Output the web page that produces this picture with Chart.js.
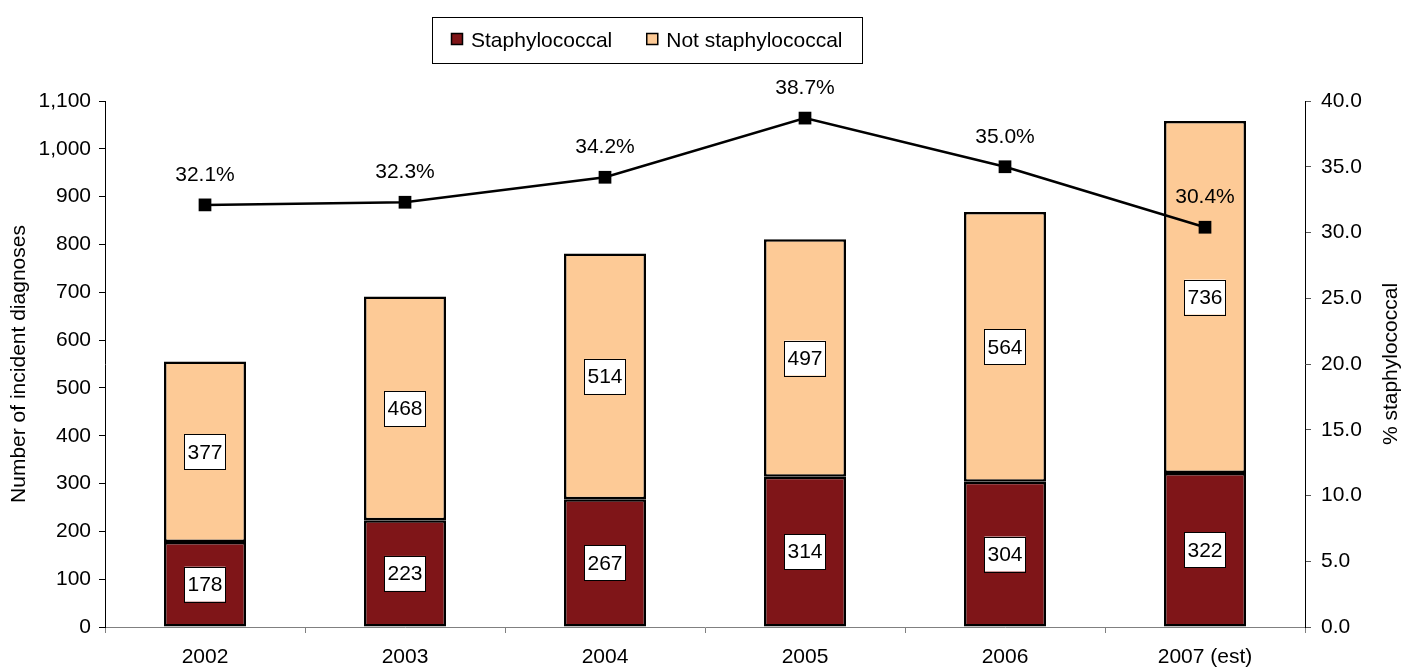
<!DOCTYPE html>
<html>
<head>
<meta charset="utf-8">
<script src="https://cdn.jsdelivr.net/npm/chart.js@4"></script>
<style>
  html, body { margin: 0; padding: 0; background: #fff; }
  #wrap { width: 1405px; height: 668px; position: relative; }
</style>
</head>
<body>
<div id="wrap"><canvas id="c" width="1405" height="668"></canvas></div>
<script>
// Incident diagnoses per year, split by staphylococcal / not staphylococcal
const years = ['2002', '2003', '2004', '2005', '2006', '2007 (est)'];
const staphylococcal = [178, 223, 267, 314, 304, 322];
const notStaphylococcal = [377, 468, 514, 497, 564, 736];
const percentStaph = [32.1, 32.3, 34.2, 38.7, 35.0, 30.4];
const countTicks = [0, 100, 200, 300, 400, 500, 600, 700, 800, 900, 1000, 1100];
const percentTicks = [0, 5, 10, 15, 20, 25, 30, 35, 40];
const rightAxisTitle = '% staphylococcal';

const FONT = '"Liberation Sans", Arial, sans-serif';
const FONT_SIZE = 21;
const STAPH_COLOR = '#7f1518';
const NOT_STAPH_COLOR = '#fdca96';

// Boxed value labels in the bar segments, and percentages above the line points
const valueLabels = {
  id: 'valueLabels',
  afterDatasetsDraw(chart) {
    const ctx = chart.ctx;
    ctx.save();
    ctx.font = FONT_SIZE + 'px ' + FONT;
    ctx.textAlign = 'center';
    ctx.textBaseline = 'middle';
    chart.data.datasets.forEach((ds, di) => {
      const meta = chart.getDatasetMeta(di);
      if (meta.hidden) return;
      meta.data.forEach((el, i) => {
        const v = ds.data[i];
        if (ds.type === 'line') {
          ctx.fillStyle = '#000';
          ctx.fillText(v.toFixed(1) + '%', el.x, el.y - 30);
        } else {
          const cy = (el.y + el.base) / 2;
          const txt = String(v);
          const w = ctx.measureText(txt).width + 6;
          const h = 35;
          ctx.fillStyle = '#fff';
          ctx.fillRect(el.x - w / 2, cy - h / 2, w, h);
          ctx.strokeStyle = '#000';
          ctx.lineWidth = 1;
          ctx.strokeRect(Math.round(el.x - w / 2) + 0.5, Math.round(cy - h / 2) + 0.5, Math.round(w), h);
          ctx.fillStyle = '#000';
          ctx.fillText(txt, el.x, cy + 1);
        }
      });
    });
    ctx.restore();
  }
};

// Framed legend above the plot, and the right axis title read bottom-to-top
const boxedLegend = {
  id: 'boxedLegend',
  afterDraw(chart) {
    const ctx = chart.ctx;
    const items = chart.data.datasets.filter(d => d.type !== 'line');
    ctx.save();
    ctx.font = FONT_SIZE + 'px ' + FONT;
    const sw = 12, gapSwatch = 8, gapItem = 34, padX = 19;
    const widths = items.map(d => sw + gapSwatch + ctx.measureText(d.label).width);
    const total = widths.reduce((a, b) => a + b, 0) + gapItem * (items.length - 1) + padX * 2;
    const cx = (chart.chartArea.left + chart.chartArea.right) / 2 - 58;
    const left = Math.round(cx - total / 2);
    const top = 17, height = 46;
    ctx.strokeStyle = '#000';
    ctx.lineWidth = 1;
    ctx.strokeRect(left + 0.5, top + 0.5, Math.round(total), height);
    let x = left + padX;
    const midY = top + height / 2;
    items.forEach((d, i) => {
      ctx.fillStyle = d.backgroundColor;
      ctx.fillRect(x, midY - 7, sw, sw);
      ctx.strokeStyle = '#000';
      ctx.lineWidth = 1.5;
      ctx.strokeRect(x + 0.5, midY - 7 + 0.5, sw - 1, sw - 1);
      ctx.fillStyle = '#000';
      ctx.textBaseline = 'middle';
      ctx.textAlign = 'left';
      ctx.fillText(d.label, x + sw + gapSwatch, midY + 1);
      x += widths[i] + gapItem;
    });

    const area = chart.chartArea;
    ctx.translate(1391, (area.top + area.bottom) / 2);
    ctx.rotate(-Math.PI / 2);
    ctx.textAlign = 'center';
    ctx.textBaseline = 'middle';
    ctx.fillStyle = '#000';
    ctx.fillText(rightAxisTitle, 0, 0);
    ctx.restore();
  }
};

const barStyle = {
  borderColor: '#000',
  borderWidth: 2.5,
  borderSkipped: false,
  categoryPercentage: 1,
  barPercentage: 0.41,
  order: 1
};

new Chart(document.getElementById('c'), {
  data: {
    labels: years,
    datasets: [
      {
        type: 'line',
        label: rightAxisTitle,
        data: percentStaph,
        yAxisID: 'y1',
        borderColor: '#000',
        borderWidth: 2.5,
        pointStyle: 'rect',
        pointRadius: 9,
        pointBackgroundColor: '#000',
        pointBorderColor: '#000',
        pointBorderWidth: 0,
        tension: 0,
        order: 0
      },
      Object.assign({
        type: 'bar',
        label: 'Staphylococcal',
        data: staphylococcal,
        yAxisID: 'y',
        backgroundColor: STAPH_COLOR
      }, barStyle),
      Object.assign({
        type: 'bar',
        label: 'Not staphylococcal',
        data: notStaphylococcal,
        yAxisID: 'y',
        backgroundColor: NOT_STAPH_COLOR
      }, barStyle)
    ]
  },
  options: {
    responsive: false,
    animation: false,
    layout: { padding: { top: 101, left: 0, right: 0, bottom: 0 } },
    plugins: {
      legend: { display: false },
      tooltip: { enabled: false },
      title: { display: false }
    },
    scales: {
      x: {
        stacked: true,
        offset: true,
        grid: {
          display: true,
          offset: true,
          drawOnChartArea: false,
          drawTicks: true,
          tickLength: 6,
          color: '#808080'
        },
        border: { display: true, color: '#808080', width: 1 },
        ticks: { color: '#000', font: { family: FONT, size: FONT_SIZE }, padding: 12, maxRotation: 0 },
        afterFit(s) { s.height = 41; }
      },
      y: {
        type: 'linear',
        position: 'left',
        stacked: true,
        min: 0,
        max: 1100,
        afterBuildTicks(s) { s.ticks = countTicks.map(v => ({ value: v })); },
        grid: {
          display: true,
          drawOnChartArea: false,
          drawTicks: true,
          tickLength: 6,
          color: '#000'
        },
        border: { display: true, color: '#000', width: 1 },
        ticks: {
          color: '#000',
          font: { family: FONT, size: FONT_SIZE },
          padding: 8,
          callback: v => v.toLocaleString('en-US')
        },
        title: {
          display: true,
          text: 'Number of incident diagnoses',
          color: '#000',
          font: { family: FONT, size: FONT_SIZE },
          padding: { top: 7, bottom: 0 }
        },
        afterFit(s) { s.width = 105; }
      },
      y1: {
        type: 'linear',
        position: 'right',
        min: 0,
        max: 40,
        afterBuildTicks(s) { s.ticks = percentTicks.map(v => ({ value: v })); },
        grid: {
          display: true,
          drawOnChartArea: false,
          drawTicks: true,
          tickLength: 6,
          color: '#555'
        },
        border: { display: true, color: '#000', width: 1 },
        ticks: {
          color: '#000',
          font: { family: FONT, size: FONT_SIZE },
          padding: 10,
          callback: v => v.toFixed(1)
        },
        title: { display: false },
        afterFit(s) { s.width = 100; }
      }
    }
  },
  plugins: [valueLabels, boxedLegend]
});
</script>
</body>
</html>
